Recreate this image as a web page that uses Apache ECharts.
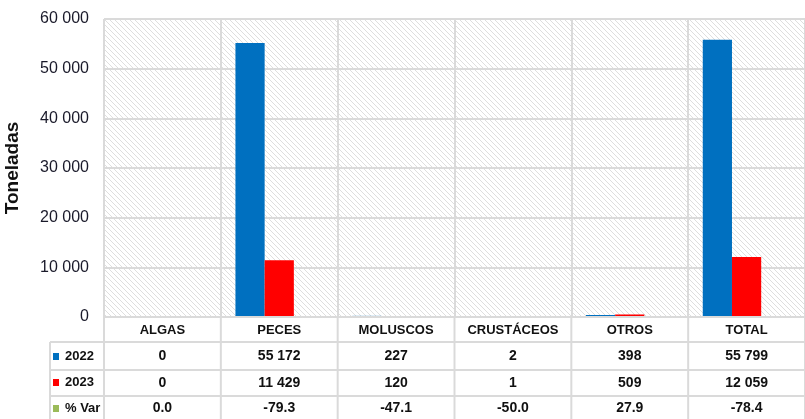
<!DOCTYPE html>
<html>
<head>
<meta charset="utf-8">
<script src="https://cdn.jsdelivr.net/npm/echarts@6/dist/echarts.min.js"></script>
<style>
  html, body { margin: 0; padding: 0; background: #fff; }
  #chart { width: 805px; height: 419px; }
</style>
</head>
<body>
<div id="chart"></div>
<script>
const categories = ['ALGAS', 'PECES', 'MOLUSCOS', 'CRUSTÁCEOS', 'OTROS', 'TOTAL']
const values2022 = [0, 55172, 227, 2, 398, 55799]
const values2023 = [0, 11429, 120, 1, 509, 12059]
const varPct = [0.0, -79.3, -47.1, -50.0, 27.9, -78.4]
const yTicks = [0, 10000, 20000, 30000, 40000, 50000, 60000]

const font = '"Liberation Sans", Arial, sans-serif'
const fmt = v => String(v).replace(/\B(?=(\d{3})+(?!\d))/g, ' ')

// hatched plot background
const hatch = document.createElement('canvas')
hatch.width = 5
hatch.height = 5
const hc = hatch.getContext('2d')
hc.fillStyle = '#fff'
hc.fillRect(0, 0, 5, 5)
hc.strokeStyle = '#dedede'
hc.lineWidth = 1
hc.beginPath()
hc.moveTo(-1, -1); hc.lineTo(6, 6)
hc.moveTo(-1, 4); hc.lineTo(1, 6)
hc.moveTo(4, -1); hc.lineTo(6, 1)
hc.stroke()

const GL = 104, GT = 19, GB = 317, W = 805
const lineColor = '#dadada'

const tableAxis = (data, margin) => ({
  type: 'category',
  position: 'bottom',
  data: data,
  axisLine: { show: false },
  axisTick: { show: false },
  splitLine: { show: false },
  axisLabel: {
    interval: 0, margin: margin, verticalAlign: 'middle',
    fontFamily: font, fontWeight: 'bold', fontSize: 14, color: '#111'
  }
})

const chart = echarts.init(document.getElementById('chart'))

const option = {
  animation: false,
  grid: {
    left: GL, right: 0, top: GT, bottom: 419 - GB,
    containLabel: false,
    outerBoundsMode: 'none',
    show: true, borderWidth: 0,
    backgroundColor: { image: hatch, repeat: 'repeat' }
  },
  legend: {
    orient: 'vertical',
    left: 53, top: 348,
    padding: 0,
    itemWidth: 6, itemHeight: 7, itemGap: 9,
    icon: 'rect',
    textStyle: { fontFamily: font, fontWeight: 'bold', fontSize: 13, color: '#111', lineHeight: 17, padding: [0, 0, 0, 1] },
    data: ['2022', '2023', '% Var']
  },
  xAxis: [
    {
      type: 'category',
      data: categories,
      z: 3,
      axisLine: { show: true, lineStyle: { color: lineColor, width: 2 } },
      axisTick: { show: false },
      splitLine: { show: true, lineStyle: { color: lineColor, width: 2 } },
      axisLabel: {
        interval: 0, margin: 13, verticalAlign: 'middle',
        fontFamily: font, fontWeight: 'bold', fontSize: 13, color: '#111'
      }
    },
    tableAxis(values2022.map(fmt), 39),
    tableAxis(values2023.map(fmt), 66),
    tableAxis(varPct.map(v => v.toFixed(1)), 91)
  ],
  yAxis: {
    type: 'value',
    min: yTicks[0],
    max: yTicks[yTicks.length - 1],
    interval: 10000,
    name: 'Toneladas',
    nameLocation: 'middle',
    nameRotate: 90,
    nameGap: 82,
    nameTextStyle: { fontFamily: font, fontWeight: 'bold', fontSize: 19, color: '#111' },
    axisLine: { show: false },
    axisTick: { show: false },
    splitLine: { lineStyle: { color: lineColor, width: 2 } },
    axisLabel: {
      margin: 15,
      fontFamily: font, fontSize: 16, color: '#1a1a2a',
      formatter: v => fmt(v)
    }
  },
  series: [
    { name: '2022', type: 'bar', data: values2022, barGap: '0%', barCategoryGap: '25%', itemStyle: { color: '#0070c0' } },
    { name: '2023', type: 'bar', data: values2023, itemStyle: { color: '#ff0000' } },
    { name: '% Var', type: 'bar', data: varPct, itemStyle: { color: '#9bbb59' } }
  ],
  graphic: []
}

// table grid lines
const g = []
const colW = (W - GL) / categories.length
for (let i = 0; i <= categories.length; i++) {
  const x = GL + i * colW
  g.push({ type: 'line', shape: { x1: x, y1: GB, x2: x, y2: 419 }, style: { stroke: lineColor, lineWidth: 2 }, z: 1 })
}
;[342, 370, 396].forEach(y => {
  g.push({ type: 'line', shape: { x1: 50, y1: y, x2: W, y2: y }, style: { stroke: lineColor, lineWidth: 2 }, z: 1 })
})
g.push({ type: 'line', shape: { x1: 50, y1: 342, x2: 50, y2: 419 }, style: { stroke: lineColor, lineWidth: 2 }, z: 1 })
option.graphic = g

chart.setOption(option)
</script>
</body>
</html>
